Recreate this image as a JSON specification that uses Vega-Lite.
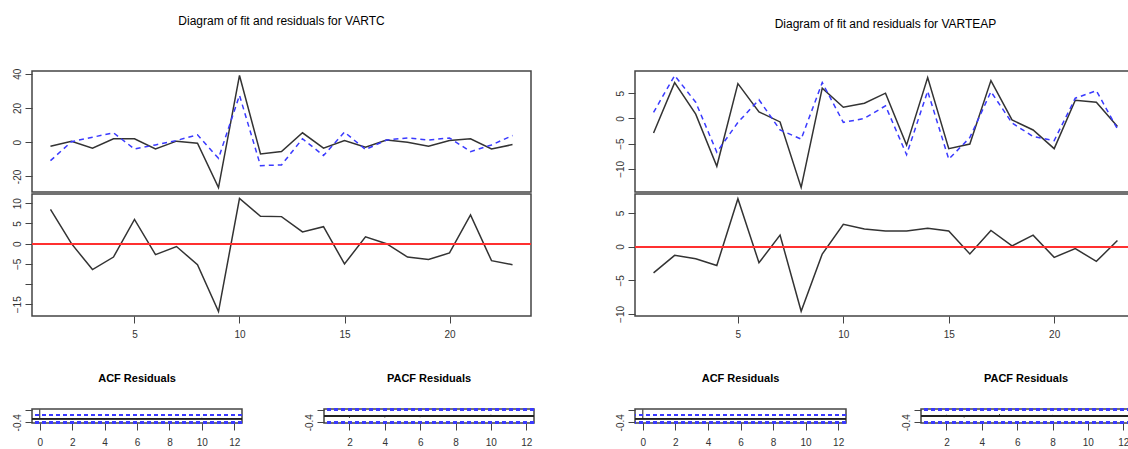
{
  "$schema": "https://vega.github.io/schema/vega-lite/v6.json",
  "padding": {"left": 6, "top": 14, "right": 0, "bottom": 0},
  "background": "white",
  "config": {
    "font": "Liberation Sans",
    "view": {"stroke": "#444", "strokeWidth": 1.5},
    "axis": {"grid": false, "domain": false, "tickColor": "#444", "tickSize": 7, "tickWidth": 1, "labelColor": "#333", "labelFont": "Liberation Sans", "labelFontSize": 10, "labelOverlap": false},
    "axisY": {"labelAngle": -90, "labelPadding": 3, "minExtent": 25, "maxExtent": 25, "labelOverlap": false},
    "axisX": {"labelAngle": 0, "labelPadding": 6, "minExtent": 25, "maxExtent": 25},
    "title": {"font": "Liberation Sans", "color": "#000", "anchor": "middle", "frame": "group"}
  },
  "datasets": {
    "vartc": [
      {"t": 1, "actual": -2.4, "fitted": -10.8, "resid": 8.5},
      {"t": 2, "actual": 0.6, "fitted": 0.3, "resid": 0},
      {"t": 3, "actual": -3.5, "fitted": 2.9, "resid": -6.4},
      {"t": 4, "actual": 2, "fitted": 5.5, "resid": -3.3},
      {"t": 5, "actual": 2, "fitted": -4, "resid": 6},
      {"t": 6, "actual": -4, "fitted": -1.6, "resid": -2.7},
      {"t": 7, "actual": 0.6, "fitted": 1, "resid": -0.7},
      {"t": 8, "actual": -0.6, "fitted": 4.3, "resid": -5.2},
      {"t": 9, "actual": -26.5, "fitted": -9.4, "resid": -16.8},
      {"t": 10, "actual": 39, "fitted": 27.4, "resid": 11.2},
      {"t": 11, "actual": -6.9, "fitted": -13.7, "resid": 6.8},
      {"t": 12, "actual": -5.5, "fitted": -13.3, "resid": 6.7},
      {"t": 13, "actual": 5.5, "fitted": 2, "resid": 2.9},
      {"t": 14, "actual": -3.5, "fitted": -7.8, "resid": 4.2},
      {"t": 15, "actual": 1, "fitted": 5.9, "resid": -5},
      {"t": 16, "actual": -3, "fitted": -4.3, "resid": 1.7},
      {"t": 17, "actual": 1.3, "fitted": 1.3, "resid": 0},
      {"t": 18, "actual": 0, "fitted": 2.5, "resid": -3.3},
      {"t": 19, "actual": -2.4, "fitted": 1.3, "resid": -3.9},
      {"t": 20, "actual": 1, "fitted": 2.5, "resid": -2.3},
      {"t": 21, "actual": 2, "fitted": -5.5, "resid": 7.1},
      {"t": 22, "actual": -4, "fitted": -1.6, "resid": -4.2},
      {"t": 23, "actual": -1.4, "fitted": 3.9, "resid": -5.2}
    ],
    "varteap": [
      {"t": 1, "actual": -2.9, "fitted": 1.2, "resid": -3.9},
      {"t": 2, "actual": 7.1, "fitted": 8.5, "resid": -1.3},
      {"t": 3, "actual": 0.85, "fitted": 3.2, "resid": -1.8},
      {"t": 4, "actual": -9.5, "fitted": -6.7, "resid": -2.8},
      {"t": 5, "actual": 6.9, "fitted": -0.8, "resid": 7.1},
      {"t": 6, "actual": 1.3, "fitted": 3.7, "resid": -2.4},
      {"t": 7, "actual": -0.7, "fitted": -2.3, "resid": 1.7},
      {"t": 8, "actual": -13.7, "fitted": -4.1, "resid": -9.6},
      {"t": 9, "actual": 6.0, "fitted": 7.1, "resid": -1.1},
      {"t": 10, "actual": 2.2, "fitted": -0.8, "resid": 3.3},
      {"t": 11, "actual": 3.0, "fitted": 0, "resid": 2.6},
      {"t": 12, "actual": 5.0, "fitted": 2.5, "resid": 2.3},
      {"t": 13, "actual": -5.3, "fitted": -7.2, "resid": 2.3},
      {"t": 14, "actual": 8.1, "fitted": 5.4, "resid": 2.7},
      {"t": 15, "actual": -6.0, "fitted": -8.1, "resid": 2.3},
      {"t": 16, "actual": -5.1, "fitted": -3.8, "resid": -1.1},
      {"t": 17, "actual": 7.5, "fitted": 5.3, "resid": 2.4},
      {"t": 18, "actual": -0.3, "fitted": -0.9, "resid": 0.1},
      {"t": 19, "actual": -2.3, "fitted": -3.6, "resid": 1.7},
      {"t": 20, "actual": -6.0, "fitted": -4.4, "resid": -1.6},
      {"t": 21, "actual": 3.6, "fitted": 4.0, "resid": -0.3},
      {"t": 22, "actual": 3.2, "fitted": 5.5, "resid": -2.2},
      {"t": 23, "actual": -1.6, "fitted": -2.1, "resid": 0.9}
    ],
    "acf1": [
      {"lag": 0, "v": 1}, {"lag": 1, "v": -0.05}, {"lag": 2, "v": -0.12}, {"lag": 3, "v": 0.03},
      {"lag": 4, "v": -0.08}, {"lag": 5, "v": 0.05}, {"lag": 6, "v": -0.1}, {"lag": 7, "v": 0.02},
      {"lag": 8, "v": 0.08}, {"lag": 9, "v": -0.06}, {"lag": 10, "v": 0.1}, {"lag": 11, "v": -0.04}, {"lag": 12, "v": 0.03}
    ],
    "pacf1": [
      {"lag": 1, "v": -0.05}, {"lag": 2, "v": -0.12}, {"lag": 3, "v": 0.05}, {"lag": 4, "v": -0.1},
      {"lag": 5, "v": 0.03}, {"lag": 6, "v": -0.08}, {"lag": 7, "v": 0.06}, {"lag": 8, "v": 0.02},
      {"lag": 9, "v": -0.05}, {"lag": 10, "v": 0.08}, {"lag": 11, "v": 0.04}, {"lag": 12, "v": -0.06}
    ],
    "acf2": [
      {"lag": 0, "v": 1}, {"lag": 1, "v": 0.04}, {"lag": 2, "v": -0.06}, {"lag": 3, "v": -0.1},
      {"lag": 4, "v": 0.05}, {"lag": 5, "v": -0.03}, {"lag": 6, "v": 0.07}, {"lag": 7, "v": -0.02},
      {"lag": 8, "v": 0.06}, {"lag": 9, "v": -0.08}, {"lag": 10, "v": -0.05}, {"lag": 11, "v": -0.09}, {"lag": 12, "v": 0.02}
    ],
    "pacf2": [
      {"lag": 1, "v": 0.04}, {"lag": 2, "v": 0.08}, {"lag": 3, "v": -0.1}, {"lag": 4, "v": 0.05},
      {"lag": 5, "v": 0.12}, {"lag": 6, "v": -0.03}, {"lag": 7, "v": 0.02}, {"lag": 8, "v": 0.07},
      {"lag": 9, "v": -0.06}, {"lag": 10, "v": 0.03}, {"lag": 11, "v": 0.05}, {"lag": 12, "v": -0.04}
    ]
  },
  "hconcat": [
    {
      "vconcat": [
        {
          "vconcat": [
            {
              "width": 499, "height": 121,
              "title": {"text": "Diagram of fit and residuals for VARTC", "fontSize": 12, "fontWeight": "normal", "offset": 40},
              "data": {"name": "vartc"},
              "layer": [
                {"mark": {"type": "line", "color": "#333", "strokeWidth": 1.5},
                 "encoding": {
                   "x": {"field": "t", "type": "quantitative", "scale": {"domain": [0.12, 23.88], "nice": false, "zero": false}, "axis": null},
                   "y": {"field": "actual", "type": "quantitative", "scale": {"domain": [-29.1, 41.6], "nice": false, "zero": false},
                         "axis": {"title": null, "labelOverlap": false, "values": [-20, -10, 0, 10, 20, 30, 40], "labelExpr": "indexof([-20, 0, 20, 40], datum.value) >= 0 ? '' + datum.value : ''"}}}},
                {"mark": {"type": "line", "color": "#3a3aff", "strokeWidth": 1.5, "strokeDash": [5, 4]},
                 "encoding": {
                   "x": {"field": "t", "type": "quantitative"},
                   "y": {"field": "fitted", "type": "quantitative"}}}
              ]
            },
            {
              "width": 499, "height": 122,
              "data": {"name": "vartc"},
              "resolve": {"axis": {"y": "independent"}},
              "layer": [
                {"mark": {"type": "line", "color": "#333", "strokeWidth": 1.5},
                 "encoding": {
                   "x": {"field": "t", "type": "quantitative", "scale": {"domain": [0.12, 23.88], "nice": false, "zero": false},
                         "axis": {"title": null, "values": [5, 10, 15, 20]}},
                   "y": {"field": "resid", "type": "quantitative", "scale": {"domain": [-17.9, 12.3], "nice": false, "zero": false},
                         "axis": {"title": null, "orient": "left", "labels": false, "values": [-15, -10, -5, 0, 5, 10]}}}},
                {"mark": {"type": "rule", "color": "#ff3030", "strokeWidth": 1.3},
                 "encoding": {"y": {"datum": 0, "type": "quantitative",
                   "axis": {"title": null, "orient": "left", "ticks": false, "labelPadding": 10, "labelOverlap": false, "values": [-15, -5, 0, 5, 10]}}}}
              ]
            }
          ],
          "spacing": 0
        },
        {
          "hconcat": [
            {
              "width": 210, "height": 14,
              "title": {"text": "ACF Residuals", "fontSize": 11, "fontWeight": "bold", "offset": 25},
              "data": {"name": "acf1"},
              "layer": [
                {"mark": {"type": "rule", "color": "#222", "strokeWidth": 1},
                 "encoding": {
                   "x": {"field": "lag", "type": "quantitative", "scale": {"domain": [-0.48, 12.48], "nice": false, "zero": false},
                         "axis": {"title": null, "labelPadding": 7, "values": [0, 2, 4, 6, 8, 10, 12]}},
                   "y": {"field": "v", "type": "quantitative", "scale": {"domain": [-0.474, 1.057], "nice": false, "zero": false},
                         "axis": {"title": null, "labelOverlap": false, "values": [-0.4, -0.2, 0, 0.2, 0.4, 0.6, 0.8, 1.0], "labelExpr": "datum.value == -0.4 ? '-0.4' : ''"}},
                   "y2": {"datum": 0}}},
                {"mark": {"type": "rule", "color": "#222", "strokeWidth": 1},
                 "encoding": {"y": {"datum": 0, "type": "quantitative"}}},
                {"mark": {"type": "rule", "color": "#3a3aff", "strokeWidth": 1.5, "strokeDash": [4, 3]},
                 "encoding": {"y": {"datum": 0.417, "type": "quantitative"}}},
                {"mark": {"type": "rule", "color": "#3a3aff", "strokeWidth": 1.5, "strokeDash": [4, 3]},
                 "encoding": {"y": {"datum": -0.417, "type": "quantitative"}}}
              ]
            },
            {
              "width": 210, "height": 14,
              "title": {"text": "PACF Residuals", "fontSize": 11, "fontWeight": "bold", "offset": 25},
              "data": {"name": "pacf1"},
              "layer": [
                {"mark": {"type": "rule", "color": "#222", "strokeWidth": 1},
                 "encoding": {
                   "x": {"field": "lag", "type": "quantitative", "scale": {"domain": [0.56, 12.44], "nice": false, "zero": false},
                         "axis": {"title": null, "labelPadding": 7, "values": [2, 4, 6, 8, 10, 12]}},
                   "y": {"field": "v", "type": "quantitative", "scale": {"domain": [-0.45, 0.45], "nice": false, "zero": false},
                         "axis": {"title": null, "labelOverlap": false, "values": [-0.4, -0.2, 0, 0.2, 0.4], "labelExpr": "datum.value == -0.4 ? '-0.4' : ''"}},
                   "y2": {"datum": 0}}},
                {"mark": {"type": "rule", "color": "#222", "strokeWidth": 1},
                 "encoding": {"y": {"datum": 0, "type": "quantitative"}}},
                {"mark": {"type": "rule", "color": "#3a3aff", "strokeWidth": 1.5, "strokeDash": [4, 3]},
                 "encoding": {"y": {"datum": 0.417, "type": "quantitative"}}},
                {"mark": {"type": "rule", "color": "#3a3aff", "strokeWidth": 1.5, "strokeDash": [4, 3]},
                 "encoding": {"y": {"datum": -0.417, "type": "quantitative"}}}
              ]
            }
          ],
          "spacing": 54
        }
      ],
      "spacing": 30
    },
    {
      "vconcat": [
        {
          "vconcat": [
            {
              "width": 501, "height": 121,
              "title": {"text": "Diagram of fit and residuals for VARTEAP", "fontSize": 12, "fontWeight": "normal", "offset": 40},
              "data": {"name": "varteap"},
              "layer": [
                {"mark": {"type": "line", "color": "#333", "strokeWidth": 1.5},
                 "encoding": {
                   "x": {"field": "t", "type": "quantitative", "scale": {"domain": [0.12, 23.88], "nice": false, "zero": false}, "axis": null},
                   "y": {"field": "actual", "type": "quantitative", "scale": {"domain": [-14.6, 9.4], "nice": false, "zero": false},
                         "axis": {"title": null, "labelOverlap": false, "values": [-10, -5, 0, 5]}}}},
                {"mark": {"type": "line", "color": "#3a3aff", "strokeWidth": 1.5, "strokeDash": [5, 4]},
                 "encoding": {
                   "x": {"field": "t", "type": "quantitative"},
                   "y": {"field": "fitted", "type": "quantitative"}}}
              ]
            },
            {
              "width": 501, "height": 122,
              "data": {"name": "varteap"},
              "layer": [
                {"mark": {"type": "line", "color": "#333", "strokeWidth": 1.5},
                 "encoding": {
                   "x": {"field": "t", "type": "quantitative", "scale": {"domain": [0.12, 23.88], "nice": false, "zero": false},
                         "axis": {"title": null, "values": [5, 10, 15, 20]}},
                   "y": {"field": "resid", "type": "quantitative", "scale": {"domain": [-10.3, 7.8], "nice": false, "zero": false},
                         "axis": {"title": null, "labelOverlap": false, "values": [-10, -5, 0, 5]}}}},
                {"mark": {"type": "rule", "color": "#ff3030", "strokeWidth": 1.3},
                 "encoding": {"y": {"datum": 0, "type": "quantitative"}}}
              ]
            }
          ],
          "spacing": 0
        },
        {
          "hconcat": [
            {
              "width": 211, "height": 14,
              "title": {"text": "ACF Residuals", "fontSize": 11, "fontWeight": "bold", "offset": 25},
              "data": {"name": "acf2"},
              "layer": [
                {"mark": {"type": "rule", "color": "#222", "strokeWidth": 1},
                 "encoding": {
                   "x": {"field": "lag", "type": "quantitative", "scale": {"domain": [-0.48, 12.48], "nice": false, "zero": false},
                         "axis": {"title": null, "labelPadding": 7, "values": [0, 2, 4, 6, 8, 10, 12]}},
                   "y": {"field": "v", "type": "quantitative", "scale": {"domain": [-0.474, 1.057], "nice": false, "zero": false},
                         "axis": {"title": null, "labelOverlap": false, "values": [-0.4, -0.2, 0, 0.2, 0.4, 0.6, 0.8, 1.0], "labelExpr": "datum.value == -0.4 ? '-0.4' : ''"}},
                   "y2": {"datum": 0}}},
                {"mark": {"type": "rule", "color": "#222", "strokeWidth": 1},
                 "encoding": {"y": {"datum": 0, "type": "quantitative"}}},
                {"mark": {"type": "rule", "color": "#3a3aff", "strokeWidth": 1.5, "strokeDash": [4, 3]},
                 "encoding": {"y": {"datum": 0.417, "type": "quantitative"}}},
                {"mark": {"type": "rule", "color": "#3a3aff", "strokeWidth": 1.5, "strokeDash": [4, 3]},
                 "encoding": {"y": {"datum": -0.417, "type": "quantitative"}}}
              ]
            },
            {
              "width": 210, "height": 14,
              "title": {"text": "PACF Residuals", "fontSize": 11, "fontWeight": "bold", "offset": 25},
              "data": {"name": "pacf2"},
              "layer": [
                {"mark": {"type": "rule", "color": "#222", "strokeWidth": 1},
                 "encoding": {
                   "x": {"field": "lag", "type": "quantitative", "scale": {"domain": [0.56, 12.44], "nice": false, "zero": false},
                         "axis": {"title": null, "labelPadding": 7, "values": [2, 4, 6, 8, 10, 12]}},
                   "y": {"field": "v", "type": "quantitative", "scale": {"domain": [-0.45, 0.45], "nice": false, "zero": false},
                         "axis": {"title": null, "labelOverlap": false, "values": [-0.4, -0.2, 0, 0.2, 0.4], "labelExpr": "datum.value == -0.4 ? '-0.4' : ''"}},
                   "y2": {"datum": 0}}},
                {"mark": {"type": "rule", "color": "#222", "strokeWidth": 1},
                 "encoding": {"y": {"datum": 0, "type": "quantitative"}}},
                {"mark": {"type": "rule", "color": "#3a3aff", "strokeWidth": 1.5, "strokeDash": [4, 3]},
                 "encoding": {"y": {"datum": 0.417, "type": "quantitative"}}},
                {"mark": {"type": "rule", "color": "#3a3aff", "strokeWidth": 1.5, "strokeDash": [4, 3]},
                 "encoding": {"y": {"datum": -0.417, "type": "quantitative"}}}
              ]
            }
          ],
          "spacing": 47
        }
      ],
      "spacing": 30
    }
  ],
  "spacing": 73
}
